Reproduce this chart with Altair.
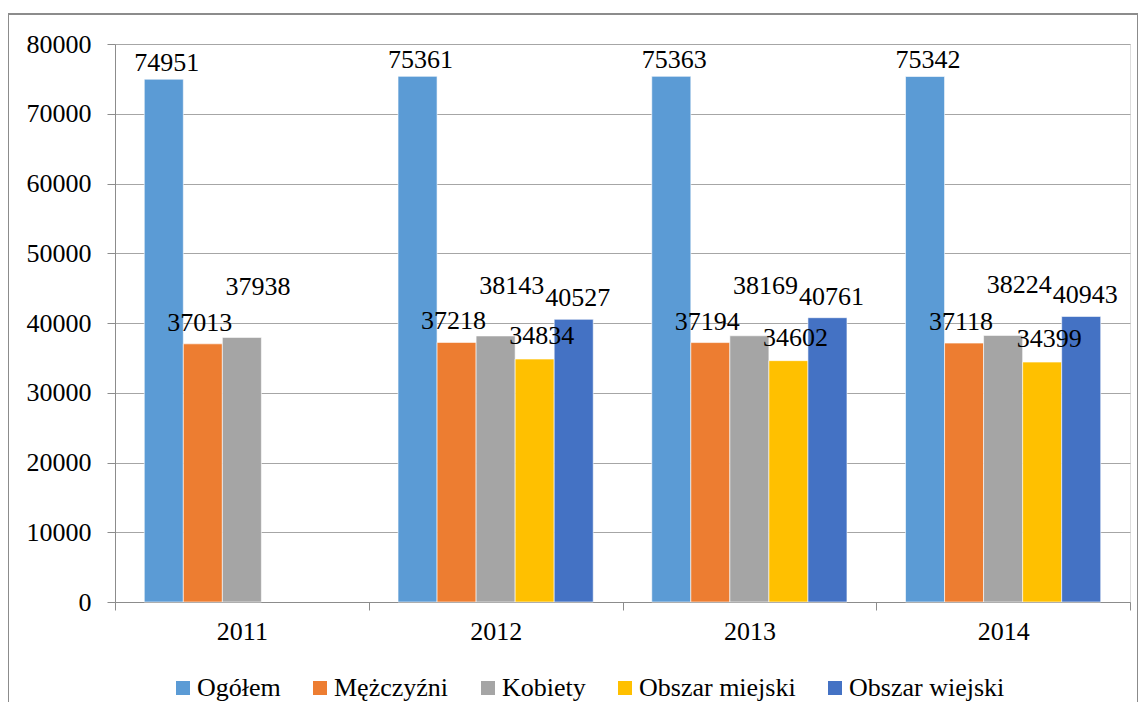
import altair as alt
import pandas as pd

years = ["2011", "2012", "2013", "2014"]
series = ["Ogółem", "Mężczyźni", "Kobiety", "Obszar miejski", "Obszar wiejski"]
colors = ["#5B9BD5", "#ED7D31", "#A5A5A5", "#FFC000", "#4472C4"]
ogolem = [74951, 75361, 75363, 75342]
mezczyzni = [37013, 37218, 37194, 37118]
kobiety = [37938, 38143, 38169, 38224]
miejski = [None, 34834, 34602, 34399]
wiejski = [None, 40527, 40761, 40943]

rows = []
for s, vals in zip(series, [ogolem, mezczyzni, kobiety, miejski, wiejski]):
    for y, v in zip(years, vals):
        if v is not None:
            rows.append({"year": y, "series": s, "value": v})
df = pd.DataFrame(rows)

FONT = "Liberation Serif"
FS = 26
W, H = 1015, 558

x_enc = alt.X("year:N", title=None, sort=years,
              scale=alt.Scale(paddingInner=0, paddingOuter=0),
              axis=alt.Axis(labelAngle=0, tickBand="extent", domainColor="#8C8C8C",
                            tickColor="#8C8C8C", tickSize=8, labelPadding=8,
                            labelFont=FONT, labelFontSize=FS, labelColor="#000000",
                            grid=False))
xo_enc = alt.XOffset("series:N", sort=series,
                     scale=alt.Scale(domain=series, paddingInner=0, paddingOuter=0.75))
y_enc = alt.Y("value:Q", title=None,
              scale=alt.Scale(domain=[0, 80000], nice=False),
              axis=alt.Axis(values=list(range(0, 80001, 10000)), format="d",
                            domainColor="#8C8C8C", tickColor="#8C8C8C", tickSize=8,
                            labelPadding=16, labelFont=FONT, labelFontSize=FS,
                            labelColor="#000000", grid=True, gridColor="#A6A6A6",
                            gridWidth=1))

bars = alt.Chart(df).mark_bar(stroke="white", strokeWidth=0.6).encode(
    x=x_enc, xOffset=xo_enc, y=y_enc,
    color=alt.Color("series:N", sort=series,
                    scale=alt.Scale(domain=series, range=colors),
                    legend=alt.Legend(title=None, orient="none", direction="horizontal",
                                      legendX=55, legendY=631,
                                      symbolType="square", symbolSize=196,
                                      symbolStrokeWidth=0, labelFont=FONT,
                                      labelFontSize=FS, labelColor="#000000",
                                      columnPadding=26, labelLimit=0,
                                      labelOffset=1, symbolOffset=0)),
)

label_style = {
    "Ogółem": (3, -16),
    "Mężczyźni": (-3, -21),
    "Kobiety": (16, -50),
    "Obszar miejski": (7, -23),
    "Obszar wiejski": (4, -21),
}

layers = [bars]
for s in series:
    dx, dy = label_style[s]
    layers.append(
        alt.Chart(df).transform_filter(alt.datum.series == s).mark_text(
            font=FONT, fontSize=FS, color="#000000", baseline="middle",
            align="center", dx=dx, dy=dy
        ).encode(x=alt.X("year:N", sort=years), xOffset=alt.XOffset("series:N", sort=series),
                 y="value:Q", text=alt.Text("value:Q", format="d"))
    )

frame = alt.Chart(df).mark_rect(fill=None, stroke="#8C8C8C", strokeWidth=1.2, clip=False).encode(
    x=alt.value(-107), x2=alt.value(1023), y=alt.value(-30), y2=alt.value(700)
)
layers.append(frame)

chart = alt.layer(*layers).properties(
    width=W, height=H,
    autosize=alt.AutoSizeParams(type="none"),
    padding={"left": 107, "top": 36, "right": 8, "bottom": 100},
).configure_view(stroke=None).configure(background="white")

chart.save("out.html", embed_options={"renderer": "svg", "actions": False})
